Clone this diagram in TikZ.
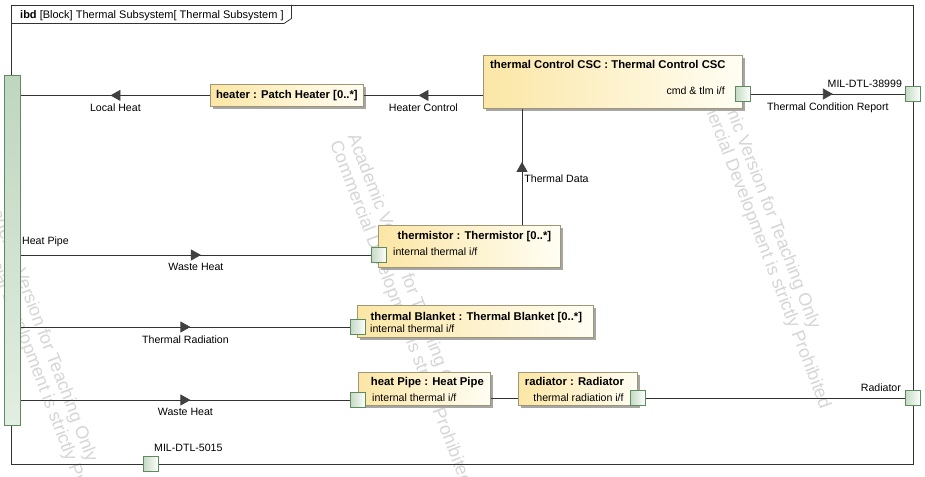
\documentclass[tikz,border=0pt]{standalone}
\usepackage{fontspec}
\setmainfont{Liberation Sans}
\usetikzlibrary{positioning,calc,shadows,arrows.meta,decorations.markings}

\definecolor{partbdr}{RGB}{160,150,115}
\definecolor{partY}{RGB}{251,230,165}
\definecolor{partW}{RGB}{255,254,244}
\definecolor{portbdr}{RGB}{95,140,95}
\definecolor{portG}{RGB}{196,218,196}
\definecolor{railT}{RGB}{190,214,190}
\definecolor{railB}{RGB}{226,238,226}
\definecolor{wiregray}{RGB}{51,51,51}
\definecolor{arrowgray}{RGB}{64,64,64}
\definecolor{wmark}{RGB}{214,214,214}

\newcommand{\labfont}{\fontsize{10.6}{12}\selectfont}
\newcommand{\partfont}{\fontsize{11.3}{13}\selectfont\bfseries}
\newcommand{\wmfont}{\fontsize{18}{19}\selectfont}

\tikzset{
  part/.style={draw=partbdr, line width=0.8pt, left color=partY, right color=partW,
    drop shadow={shadow xshift=3pt, shadow yshift=-3pt, fill=black!35, opacity=1},
    anchor=north west, inner sep=0pt},
  port/.style={draw=portbdr, line width=0.8pt, left color=portG, right color=white,
    minimum size=15pt, inner sep=0pt},
  wire/.style={draw=wiregray, line width=0.8pt},
  flow/.style={wire, postaction={decorate, decoration={markings,
    mark=at position 0.5 with {\arrow[xshift=5pt]{Triangle[length=10pt,width=11pt,color=arrowgray]}}}}},
  lab/.style={font=\labfont, inner sep=1pt},
  ptitle/.style={font=\partfont, inner sep=0pt},
  wm/.style={font=\wmfont, text=wmark, rotate=-69, anchor=north west, align=left, inner sep=0pt}
}

\begin{document}
\begin{tikzpicture}[x=1pt, y=-1pt]
\useasboundingbox (0,0) rectangle (925,476);
\fill[white] (0,0) rectangle (925,476);
% watermark
\begin{scope}
  \clip (0,0) rectangle (925,476);
  \foreach \wx/\wy in {-4/188, 360/132, 719/55}
    \node[wm] at (\wx,\wy) {Academic Version for Teaching Only\\Commercial Development is strictly Prohibited};
\end{scope}
% frame
\draw[wire] (11.5,5) rectangle (913,464);
\draw[wire] (11.5,23.5) -- (284,23.5) -- (291.5,18.5) -- (291.5,5);
\node[anchor=base west, font=\fontsize{11}{13}\selectfont, inner sep=0pt] (hdr) at (20,18.5)
  {\textbf{ibd} [Block] Thermal Subsystem[ Thermal Subsystem ]};
\node[draw=portbdr, line width=0.8pt, top color=railT, bottom color=railB, minimum width=16pt,
  minimum height=350pt, inner sep=0pt, anchor=north west] (rail) at (4,75) {};
\node[lab, anchor=base west, inner sep=0pt] at (22,244) {Heat Pipe};
%
\node[part, font=\partfont, minimum width=153pt, minimum height=22pt] (heater) at (210,84)
  {heater : Patch Heater [0..*]};
%
\node[part, minimum width=259pt, minimum height=53pt] (csc) at (483,55) {};
\node[ptitle, anchor=base west] at ($(csc.north west)+(7,14)$) {thermal Control CSC : Thermal Control CSC};
\node[lab, anchor=base east, inner sep=0pt] at ($(csc.north west)+(242,40)$) {cmd \& tlm i/f};
\node[port] (cport) at ($(csc.north east)+(0,39)$) {};
%
\node[part, minimum width=182pt, minimum height=42pt] (thm) at (378,225) {};
\node[ptitle, anchor=base] at ($(thm.north)+(5,14)$) {thermistor : Thermistor [0..*]};
\node[lab, anchor=base west, inner sep=0pt] at ($(thm.north west)+(15,30)$) {internal thermal i/f};
\node[port] (thp) at ($(thm.north west)+(1,30)$) {};
%
\node[part, minimum width=236pt, minimum height=32pt] (tb) at (357,305) {};
\node[ptitle, anchor=base] at ($(tb.north)+(1,15)$) {thermal Blanket : Thermal Blanket [0..*]};
\node[lab, anchor=base west, inner sep=0pt] at ($(tb.north west)+(13,27)$) {internal thermal i/f};
\node[port] (tbp) at ($(tb.north west)+(1,22)$) {};
%
\node[part, minimum width=132pt, minimum height=33pt] (hp) at (358,372) {};
\node[ptitle, anchor=base] at ($(hp.north)+(3,13)$) {heat Pipe : Heat Pipe};
\node[lab, anchor=base west, inner sep=0pt] at ($(hp.north west)+(14,29)$) {internal thermal i/f};
\node[port] (hpp) at ($(hp.north west)+(0,28)$) {};
%
\node[part, minimum width=119pt, minimum height=33pt] (rad) at (518,372) {};
\node[ptitle, anchor=base] at ($(rad.north)+(-3.5,13)$) {radiator : Radiator};
\node[lab, anchor=base east, inner sep=0pt] at ($(rad.north east)+(-14,29)$) {thermal radiation i/f};
\node[port] (rport) at ($(rad.north east)+(0,26)$) {};
%
\node[port] (p38999) at (913,94) {};
\node[port] (prad) at (913,398) {};
\node[port] (p5015) at (151,464) {};
\node[lab, anchor=base east, inner sep=0pt] at ($(p38999.west)+(-3,-6)$) {MIL-DTL-38999};
\node[lab, anchor=base east, inner sep=0pt] at ($(prad.west)+(-4,-7)$) {Radiator};
\node[lab, anchor=base west, inner sep=0pt] at ($(p5015)+(3,-13)$) {MIL-DTL-5015};
%
\coordinate (td) at ($(csc.south west)+(39,0)$);
\draw[flow] (heater.west) -- (heater.west -| rail.east) node[lab, midway, below=7pt] {Local Heat};
\draw[flow] (heater.east -| csc.west) -- (heater.east) node[lab, midway, below=7pt] {Heater Control};
\draw[flow] (thm.north -| td) -- (td) node[lab, pos=0.4, right=1pt] {Thermal Data};
\draw[flow] (cport.east) -- (p38999.west) node[lab, midway, below=7pt] {Thermal Condition Report};
\draw[flow] (rail.east |- thp) -- (thp.west) node[lab, midway, below=7pt] {Waste Heat};
\draw[flow] (rail.east |- tbp) -- (tbp.west) node[lab, midway, below=7pt] {Thermal Radiation};
\draw[flow] (rail.east |- hpp) -- (hpp.west) node[lab, midway, below=7pt] {Waste Heat};
\draw[wire] (hp.east |- rport) -- (rad.west |- rport);
\draw[wire] (rport.east) -- (prad.west);
\end{tikzpicture}
\end{document}
